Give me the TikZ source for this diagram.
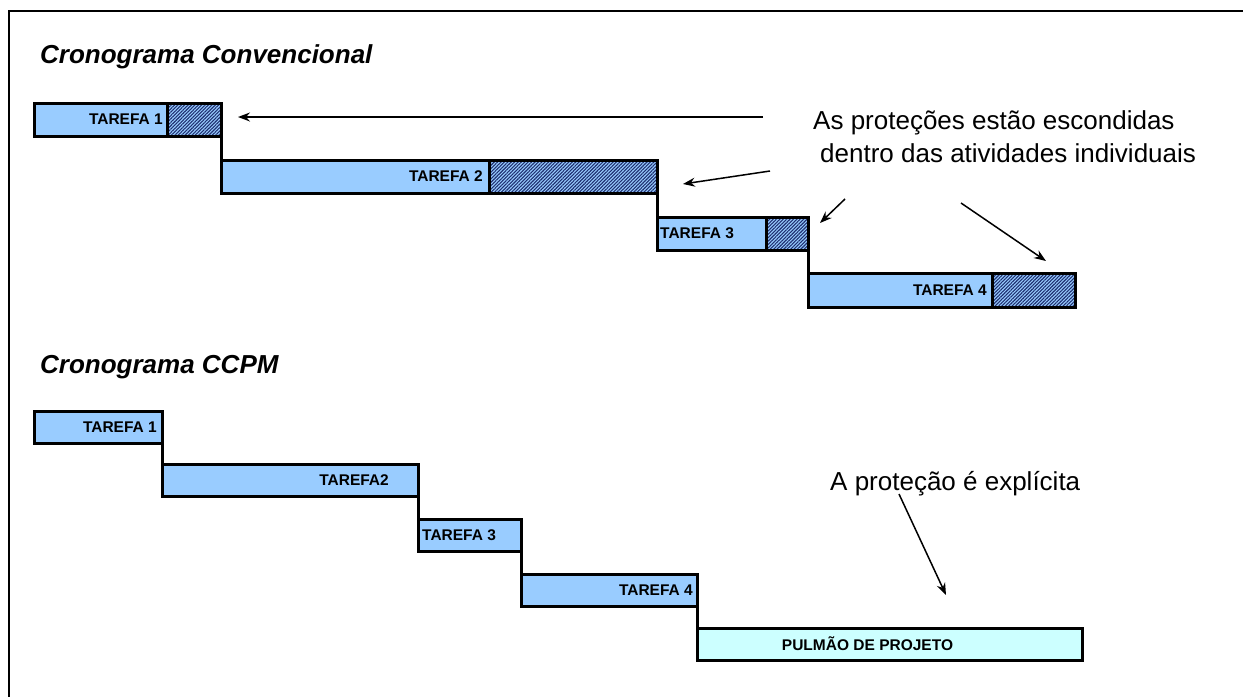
\documentclass[tikz,border=0pt]{standalone}
\usepackage{fontspec}
\setmainfont{Liberation Sans}
\usetikzlibrary{arrows.meta,patterns.meta}
\definecolor{barblue}{HTML}{99CCFF}
\definecolor{bufcyan}{HTML}{CCFFFF}
\definecolor{hatchnavy}{HTML}{1E2F70}
\tikzset{
  taskbar/.style={draw=black, line width=3pt, fill=barblue, minimum height=33pt,
    inner sep=0pt, outer sep=0pt, anchor=north west},
  hatchbar/.style={taskbar, preaction={fill=barblue},
    pattern={Lines[angle=45,distance=2.4pt,line width=1.1pt]}, pattern color=hatchnavy},
  bufbar/.style={taskbar, fill=bufcyan},
  step line/.style={line width=3pt, line cap=rect},
  tlabel/.style={inner sep=0pt, font=\fontsize{15.5}{17}\selectfont\bfseries},
  sectitle/.style={inner sep=0pt, anchor=base west, font=\fontsize{26}{30}\selectfont\bfseries\itshape},
  note/.style={inner sep=0pt, anchor=base west, font=\fontsize{26}{30}\selectfont},
  pointer/.style={line width=1.5pt, -{Stealth[length=12pt,width=9pt,inset=4pt]}}
}
\begin{document}
\begin{tikzpicture}[x=1pt,y=-1pt]
\useasboundingbox (0,0) rectangle (1243,697);
% frame
\draw[line width=2pt] (1243,11) -- (9,11) -- (9,697);

% ---------- Cronograma Convencional ----------
\node[sectitle] (title1) at (40,63) {Cronograma Convencional};

\node[taskbar, minimum width=133pt] (c1) at (34,103) {};
\node[hatchbar, minimum width=54pt] (h1) at (167,103) {};
\node[taskbar, minimum width=268pt] (c2) at (221,160) {};
\node[hatchbar, minimum width=168pt] (h2) at (489,160) {};
\node[taskbar, minimum width=109pt] (c3) at (657,217) {};
\node[hatchbar, minimum width=42pt] (h3) at (766,217) {};
\node[taskbar, minimum width=184pt, minimum height=34pt] (c4) at (808,273) {};
\node[hatchbar, minimum width=83pt, minimum height=34pt] (h4) at (992,273) {};

\draw[step line] (h1.south east) -- (c2.north west);
\draw[step line] (h2.south east) -- (c3.north west);
\draw[step line] (h3.south east) -- (c4.north west);

\node[tlabel, anchor=east] (lc1) at ([xshift=-4pt]c1.east) {TAREFA 1};
\node[tlabel, anchor=east] (lc2) at ([xshift=-6pt]c2.east) {TAREFA 2};
\node[tlabel, anchor=west] (lc3) at ([xshift=3pt]c3.west) {TAREFA 3};
\node[tlabel, anchor=east] (lc4) at ([xshift=-5pt]c4.east) {TAREFA 4};

\node[note] (n1) at (813,129) {As proteções estão escondidas};
\node[note] (n2) at (820,162) {dentro das atividades individuais};

\coordinate (a1s) at (763,117); \coordinate (a1e) at (238,117);
\coordinate (a2s) at (770,171); \coordinate (a2e) at (683,184);
\coordinate (a3s) at (845,199); \coordinate (a3e) at (820,223);
\coordinate (a4s) at (961,203); \coordinate (a4e) at (1046,261);
\draw[pointer] (a1s) -- (a1e);
\draw[pointer] (a2s) -- (a2e);
\draw[pointer] (a3s) -- (a3e);
\draw[pointer] (a4s) -- (a4e);

% ---------- Cronograma CCPM ----------
\node[sectitle] (title2) at (40,373) {Cronograma CCPM};

\node[taskbar, minimum width=128pt, minimum height=32pt] (p1) at (34,411) {};
\node[taskbar, minimum width=256pt, minimum height=32pt] (p2) at (162,464) {};
\node[taskbar, minimum width=103pt, minimum height=32pt] (p3) at (418,519) {};
\node[taskbar, minimum width=176pt, minimum height=32pt] (p4) at (521,574) {};
\node[bufbar, minimum width=385pt, minimum height=32pt] (pb) at (697,628) {};

\draw[step line] (p1.south east) -- (p2.north west);
\draw[step line] (p2.south east) -- (p3.north west);
\draw[step line] (p3.south east) -- (p4.north west);
\draw[step line] (p4.south east) -- (pb.north west);

\node[tlabel, anchor=east] (lp1) at ([xshift=-5pt]p1.east) {TAREFA 1};
\node[tlabel, anchor=east] (lp2) at ([xshift=-29pt]p2.east) {TAREFA2};
\node[tlabel, anchor=west] (lp3) at ([xshift=4pt]p3.west) {TAREFA 3};
\node[tlabel, anchor=east] (lp4) at ([xshift=-4pt]p4.east) {TAREFA 4};
\node[tlabel] (lpb) at ([xshift=-22pt]pb.center) {PULMÃO DE PROJETO};

\node[note] (n3) at (830,490) {A proteção é explícita};
\coordinate (a5s) at (899,494); \coordinate (a5e) at (946,595);
\draw[pointer] (a5s) -- (a5e);
\end{tikzpicture}
\end{document}
